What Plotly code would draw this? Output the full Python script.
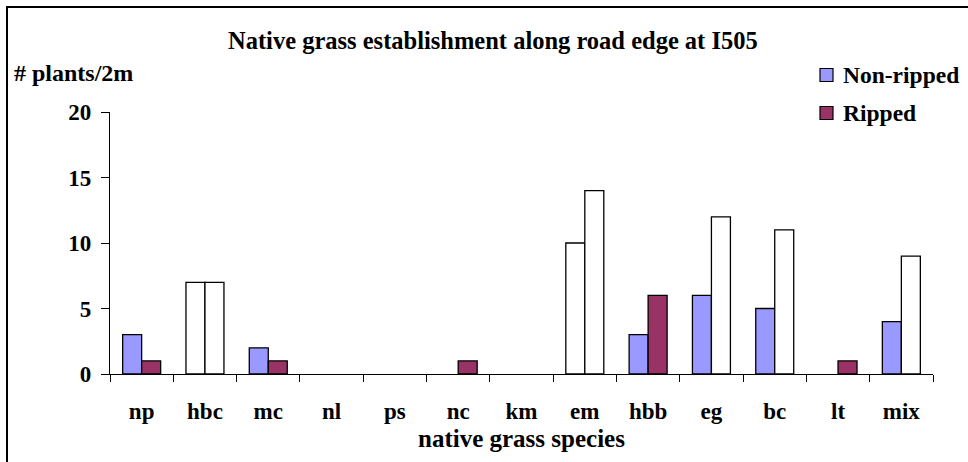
import plotly.graph_objects as go

categories = ["np", "hbc", "mc", "nl", "ps", "nc", "km", "em", "hbb", "eg", "bc", "lt", "mix"]
non_ripped = [3, 7, 2, 0, 0, 0, 0, 10, 3, 6, 5, 0, 4]
ripped = [1, 7, 1, 0, 0, 1, 0, 14, 6, 12, 11, 1, 9]
y_ticks = [0, 5, 10, 15, 20]
# categories whose bars are drawn unfilled in the original
open_non_ripped = ["hbc", "em"]
open_ripped = ["hbc", "em", "eg", "bc", "mix"]

BLUE = "#9999FF"
PURPLE = "#993366"
FONT = "Liberation Serif"

nr_colors = ["white" if c in open_non_ripped else BLUE for c in categories]
r_colors = ["white" if c in open_ripped else PURPLE for c in categories]
nr_lw = [1.3 if v else 0 for v in non_ripped]
r_lw = [1.3 if v else 0 for v in ripped]

W, H = 968, 462
L, R, T, B = 110, 35, 112, 88
PW, PH = W - L - R, H - T - B

def px(x):
    return (x - L) / PW

def py(y):
    return (H - B - y) / PH

fig = go.Figure()
fig.add_trace(go.Bar(x=categories, y=non_ripped, name="Non-ripped",
                     marker=dict(color=nr_colors, line=dict(color="black", width=nr_lw))))
fig.add_trace(go.Bar(x=categories, y=ripped, name="Ripped",
                     marker=dict(color=r_colors, line=dict(color="black", width=r_lw))))

fig.update_layout(
    width=W, height=H,
    margin=dict(l=L, r=R, t=T, b=B),
    paper_bgcolor="white", plot_bgcolor="white",
    barmode="group", bargap=0.4, bargroupgap=0,
    font=dict(family=FONT, color="black", size=20),
    showlegend=False,
    xaxis=dict(showline=True, linecolor="black", linewidth=1.3,
               ticks="outside", tickson="boundaries", ticklen=7, tickcolor="black",
               tickvals=categories, ticktext=[f"<b>{c}</b>" for c in categories],
               tickfont=dict(family=FONT, size=23, color="black"), ticklabelstandoff=16,
               showgrid=False, zeroline=False, fixedrange=True),
    yaxis=dict(range=[0, 20], tickvals=y_ticks, ticktext=[f"<b>{v}</b>" for v in y_ticks],
               showline=True, linecolor="black",
               linewidth=1.3, ticks="outside", ticklen=8, tickcolor="black",
               tickfont=dict(family=FONT, size=23, color="black"), ticklabelstandoff=5,
               showgrid=False, zeroline=False, fixedrange=True),
)

ann = []
ann.append(dict(text="<b>Native grass establishment along road edge at I505</b>",
                x=px(493), y=py(40), xref="paper", yref="paper", showarrow=False,
                xanchor="center", yanchor="middle", font=dict(family=FONT, size=24.5)))
ann.append(dict(text="<b># plants/2m</b>", x=px(12), y=py(73), xref="paper", yref="paper",
                showarrow=False, xanchor="left", yanchor="middle", font=dict(family=FONT, size=24)))
ann.append(dict(text="<b>native grass species</b>", x=px(521), y=py(438), xref="paper", yref="paper",
                showarrow=False, xanchor="center", yanchor="middle", font=dict(family=FONT, size=25)))
ann.append(dict(text="<b>Non-ripped</b>", x=px(841), y=py(75), xref="paper", yref="paper",
                showarrow=False, xanchor="left", yanchor="middle", font=dict(family=FONT, size=23.5)))
ann.append(dict(text="<b>Ripped</b>", x=px(841), y=py(113), xref="paper", yref="paper",
                showarrow=False, xanchor="left", yanchor="middle", font=dict(family=FONT, size=23.5)))
fig.update_layout(annotations=ann)

shapes = []
# outer chart frame (left and top edges visible)
shapes.append(dict(type="line", xref="paper", yref="paper", x0=px(7), x1=px(7), y0=py(6), y1=py(470),
                   line=dict(color="black", width=2)))
shapes.append(dict(type="line", xref="paper", yref="paper", x0=px(6), x1=px(975), y0=py(7), y1=py(7),
                   line=dict(color="black", width=2)))
# legend keys
for yc, col in [(75, BLUE), (113, PURPLE)]:
    shapes.append(dict(type="rect", xref="paper", yref="paper", x0=px(820), x1=px(833),
                       y0=py(yc + 6.5), y1=py(yc - 6.5), fillcolor=col, line=dict(color="black", width=1.2)))
fig.update_layout(shapes=shapes)

fig.write_html("out.html", config={"displayModeBar": False},
               post_script="document.body.style.margin='0';")
